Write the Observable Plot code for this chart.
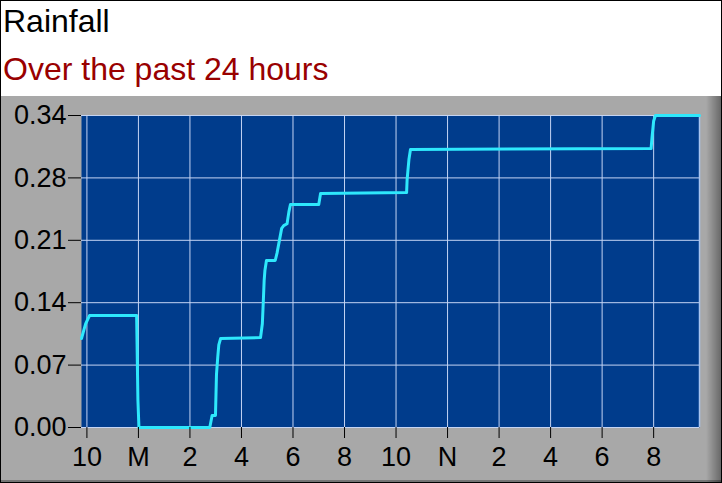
<!DOCTYPE html>
<html><head><meta charset="utf-8">
<script src="https://cdn.jsdelivr.net/npm/d3@7"></script>
<script src="https://cdn.jsdelivr.net/npm/@observablehq/plot@0.6"></script>
<style>
html,body{margin:0;padding:0;background:#fff;}
#chart{position:relative;width:722px;height:483px;box-sizing:border-box;border:1px solid #000;font-family:"Liberation Sans",Arial,sans-serif;overflow:hidden;}
#header{position:relative;height:95px;background:#fff;}
#title{position:absolute;left:2px;top:3.6px;font-size:32px;line-height:32px;color:#000;white-space:nowrap;}
#subtitle{position:absolute;left:2px;top:51.9px;font-size:32px;line-height:32px;color:#990000;white-space:nowrap;}
#panel{position:relative;height:386px;background:#a8a8a8;}
#panel::after{content:"";position:absolute;right:0;top:0;width:15px;height:100%;background:linear-gradient(to right, rgba(0,0,0,0), rgba(0,0,0,0.38));pointer-events:none;}
#panel::before{content:"";position:absolute;left:0;bottom:0;width:100%;height:2px;background:rgba(0,0,0,0.3);pointer-events:none;}
#panel svg{display:block;}
</style>
</head><body>
<div id="chart">
  <div id="header"><div id="title">Rainfall</div><div id="subtitle">Over the past 24 hours</div></div>
  <div id="panel"></div>
</div>
<script>
// hours since midnight of the first day (24 = midnight, 36 = noon)
const hours = [21.79, 21.87, 21.95, 22.10, 23.93, 23.98, 24.02, 26.77, 26.86, 26.99, 27.03, 27.08, 27.12, 27.19,
  28.74, 28.81, 28.85, 28.88, 28.91, 28.97, 29.31, 29.38, 29.48, 29.56, 29.64, 29.77, 29.84, 29.90,
  31.00, 31.07, 34.41, 34.43, 34.50, 34.56, 43.90, 43.94, 44.00, 44.07, 45.78];
const rain = [0.097, 0.105, 0.113, 0.122, 0.122, 0.030, 0.000, 0.000, 0.013, 0.013, 0.058, 0.077, 0.090, 0.097,
  0.098, 0.113, 0.139, 0.160, 0.171, 0.182, 0.182, 0.190, 0.205, 0.217, 0.220, 0.222, 0.235, 0.243,
  0.243, 0.255, 0.256, 0.270, 0.292, 0.303, 0.304, 0.317, 0.334, 0.340, 0.340];
const xDomain = [21.79, 45.78];
const xTicks = [22, 24, 26, 28, 30, 32, 34, 36, 38, 40, 42, 44];
const xTickLabels = ["10", "M", "2", "4", "6", "8", "10", "N", "2", "4", "6", "8"];
const yDomain = [0, 0.34];
const yTicks = [0, 0.068, 0.136, 0.204, 0.272, 0.34];
const yTickLabels = ["0.00", "0.07", "0.14", "0.21", "0.28", "0.34"];

const data = hours.map((h, i) => ({h, v: rain[i]}));
const gridColor = "#c4d4f4";

const chart = Plot.plot({
  width: 720, height: 386,
  marginLeft: 80, marginRight: 22, marginTop: 19, marginBottom: 55,
  style: {background: "transparent", fontFamily: "'Liberation Sans', Arial, sans-serif", color: "#000", overflow: "visible"},
  x: {domain: xDomain, label: null},
  y: {domain: yDomain, label: null},
  marks: [
    Plot.frame({fill: "#003c8c", stroke: null}),
    Plot.gridX(xTicks, {stroke: gridColor, strokeOpacity: 1, strokeWidth: 1}),
    Plot.gridY(yTicks, {stroke: gridColor, strokeOpacity: 1, strokeWidth: 1}),
    Plot.ruleX([xDomain[1]], {stroke: "#a8c4f0", strokeWidth: 1.5}),
    Plot.line(data, {x: "h", y: "v", stroke: "#2ee8fc", strokeWidth: 3, strokeLinejoin: "round", curve: "linear"}),
    Plot.axisX({ticks: xTicks, tickFormat: d => xTickLabels[xTicks.indexOf(d)], tickSize: 11, tickPadding: 8, fontSize: 27, label: null, stroke: "#000", fill: "#000"}),
    Plot.axisY({ticks: yTicks, tickFormat: d => yTickLabels[yTicks.indexOf(d)], tickSize: 13, tickPadding: 2, fontSize: 27, label: null, stroke: "#000", fill: "#000"})
  ]
});
document.getElementById("panel").appendChild(chart);
</script>
</body></html>
